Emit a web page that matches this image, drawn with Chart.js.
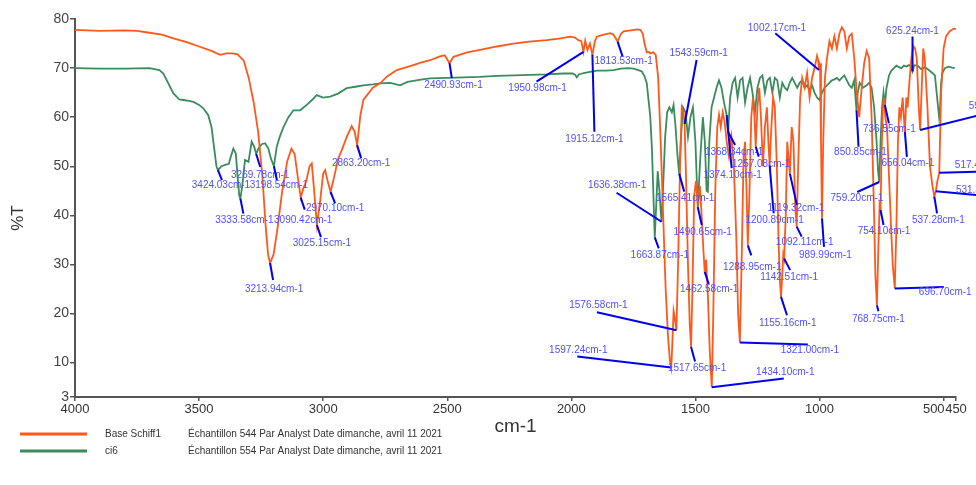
<!DOCTYPE html>
<html>
<head>
<meta charset="utf-8">
<script src="https://cdn.jsdelivr.net/npm/chart.js@4/dist/chart.umd.min.js"></script>
<style>
  html, body { margin: 0; padding: 0; background: #fff; }
  #spectre { display: block; }
</style>
</head>
<body>
<canvas id="spectre" width="976" height="485"></canvas>
<script>
// IR spectra, %T against wavenumber (cm-1)

var xTicks = [4000, 3500, 3000, 2500, 2000, 1500, 1000, 500, 450];
var yTicks = [3, 10, 20, 30, 40, 50, 60, 70, 80];

// Base Schiff1
var wnSchiff = [4000, 3900, 3800, 3750, 3700, 3650, 3600, 3550, 3500, 3450, 3415, 3390, 3365, 3345, 3320, 3300, 3280, 3262, 3245, 3232, 3222, 3213.94, 3200, 3185, 3165, 3145, 3128, 3115, 3100, 3090.42, 3080, 3068, 3055, 3046, 3038, 3025.15, 3012, 3000, 2992, 2982, 2970.10, 2955, 2940, 2925, 2905, 2885, 2873, 2863.20, 2850, 2838, 2800, 2771, 2740, 2703, 2670, 2637, 2600, 2569, 2530, 2510, 2490.93, 2475, 2420, 2368, 2300, 2234, 2170, 2099, 2050, 2005, 1985, 1972, 1960, 1950.98, 1944, 1935, 1925, 1915.12, 1905, 1897, 1870, 1843, 1830, 1813.53, 1800, 1789, 1760, 1735, 1722, 1712, 1705, 1696, 1688, 1682, 1670, 1660, 1650, 1640, 1630, 1620, 1610, 1603, 1597.24, 1593, 1588, 1583, 1576.58, 1570, 1562, 1555, 1548, 1543.59, 1538, 1530, 1523, 1517.65, 1512, 1505, 1498, 1490, 1482, 1475, 1468, 1462.58, 1457, 1450, 1442, 1434.10, 1428, 1420, 1412, 1405, 1398, 1390, 1382, 1374, 1365, 1355, 1345, 1335, 1328, 1321.00, 1314, 1306, 1300, 1294, 1288.95, 1282, 1275, 1268, 1262, 1257.08, 1250, 1243, 1236, 1228, 1220, 1212, 1206, 1200.89, 1194, 1187, 1180, 1172, 1165, 1160, 1155.16, 1150, 1146, 1142.51, 1136, 1130, 1125, 1119.32, 1112, 1105, 1098, 1092.11, 1086, 1078, 1070, 1060, 1050, 1040, 1030, 1020, 1010, 1005, 1002.17, 998, 994, 989.99, 985, 978, 970, 960, 950, 940, 930, 920, 910, 900, 890, 880, 870, 860, 850, 840, 830, 820, 810, 800, 790, 780, 775, 768.75, 762, 758, 754.10, 750, 745, 740, 735, 728, 720, 712, 705, 696.70, 690, 684, 678, 672, 665, 660, 656.04, 650, 645, 638, 630, 622, 615, 608, 600, 594.62, 588, 582, 576, 565, 555, 545, 537.28, 531.36, 525, 517.42, 510, 500, 490, 475, 460, 450];
var tSchiff = [77.8, 77.6, 77.7, 77.6, 77.2, 76.8, 76.0, 75.3, 74.4, 73.5, 72.7, 73.0, 73.0, 72.8, 71.5, 68, 63, 57, 48, 38, 32, 30.3, 32, 37, 45, 51, 53.6, 52.5, 47, 43.6, 45.5, 47, 50, 50.6, 46, 38.0, 43, 48.5, 49.2, 47, 44.8, 48, 51.5, 53.3, 56, 58.2, 57, 54.3, 60.4, 63.5, 66, 66.9, 68.4, 69.6, 70.1, 70.6, 71.2, 71.6, 72.4, 72.6, 71.0, 72.3, 73.2, 73.7, 74.4, 75.0, 75.4, 75.7, 76.0, 76.4, 76.2, 75.7, 75.5, 73.3, 75.6, 73.7, 75.0, 72.7, 75.5, 76.4, 76.8, 77.1, 76.8, 75.4, 77.0, 77.5, 77.7, 77.9, 77.8, 77, 75.0, 73.2, 73.3, 73, 73.2, 72.7, 68, 55, 40, 25, 15, 10.5, 9.0, 14, 20.5, 19, 16.6, 30, 50, 62.0, 61, 58.6, 48, 30, 18, 13.2, 25, 44, 47, 42, 46, 40, 33, 28.5, 31, 24, 12, 5.0, 20, 45, 58, 60.5, 58, 61, 59, 55, 52, 56, 50, 35, 20, 14.1, 30, 52, 55, 45, 33.9, 45, 60, 64, 60, 54.0, 62, 66, 60, 50, 58, 62, 55, 50.2, 58, 64, 62, 50, 35, 27, 23.4, 28, 32, 31.2, 40, 55, 52, 48.5, 58, 55, 42, 37.7, 50, 64, 68, 66, 69, 64, 68, 70, 72.5, 71.5, 69.6, 71, 55, 39.4, 55, 68, 72, 75.5, 74, 76.5, 74, 77, 78.3, 77.5, 74, 76.5, 77, 72, 65, 60, 66, 71, 73.5, 72, 60, 40, 28, 21.7, 35, 42, 41.1, 52, 62, 64, 60, 58, 48, 38, 30, 25.1, 38, 55, 62, 60, 64, 60, 57.0, 64, 62, 67, 72, 74.5, 74, 72, 62, 57.4, 66, 74, 72, 62, 50, 46, 43.8, 44.9, 47, 48.7, 65, 74, 76.5, 77.5, 78, 78];

// ci6
var wnCi6 = [4000, 3900, 3800, 3700, 3660, 3644, 3625, 3604, 3580, 3563, 3540, 3523, 3500, 3483, 3463, 3450, 3440, 3430, 3424.03, 3410, 3395, 3380, 3372, 3362, 3352, 3345, 3338, 3333.58, 3326, 3315, 3301, 3288, 3278, 3269.78, 3261, 3248, 3234, 3221, 3210, 3198.54, 3187, 3175, 3160, 3140, 3120, 3093, 3066, 3045, 3026, 3000, 2972, 2940, 2905, 2870, 2838, 2800, 2771, 2730, 2690, 2660, 2636, 2600, 2569, 2500, 2435, 2370, 2300, 2230, 2166, 2100, 2032, 1995, 1984, 1978, 1970, 1950, 1930, 1897, 1860, 1830, 1800, 1770, 1749, 1730, 1716, 1705, 1696, 1688, 1682, 1675, 1668, 1663.87, 1658, 1652, 1645, 1640, 1636.38, 1630, 1622, 1614, 1605, 1595, 1588, 1580, 1572, 1565.41, 1558, 1550, 1540, 1530, 1520, 1510, 1500, 1490.65, 1480, 1470, 1462, 1455, 1450, 1444, 1435, 1425, 1415, 1405, 1395, 1385, 1374.10, 1368.34, 1360, 1350, 1340, 1330, 1320, 1310, 1300, 1290, 1280, 1270, 1260, 1250, 1240, 1230, 1220, 1210, 1200, 1190, 1180, 1170, 1160, 1150, 1140, 1130, 1120, 1110, 1100, 1090, 1080, 1070, 1060, 1050, 1040, 1030, 1020, 1010, 1000, 990, 980, 970, 960, 950, 940, 930, 920, 910, 900, 890, 880, 870, 860, 855, 850.85, 846, 838, 825, 810, 800, 790, 780, 770, 764, 759.20, 754, 748, 742, 736.55, 730, 720, 710, 700, 690, 680, 670, 660, 650, 640, 632, 625.24, 618, 605, 590, 575, 560, 545, 535, 528, 522, 518, 514, 510, 505, 495, 480, 465, 455];
var tCi6 = [70.0, 69.9, 69.9, 70.0, 69.6, 68.9, 67, 64.9, 63.6, 63.5, 63.3, 63.1, 62.5, 61.8, 60.4, 58, 54, 50, 49.2, 50.0, 50.3, 50.5, 52, 53.6, 52.6, 48, 44, 43.4, 46, 51.3, 50.9, 55.0, 54, 52.5, 53.6, 54.5, 54.7, 53.6, 51.5, 50.0, 54, 56, 58, 60, 61.4, 61.4, 62.5, 63.5, 64.5, 64.0, 64.2, 64.8, 65.9, 66.2, 66.5, 66.7, 66.9, 67.0, 66.5, 67.2, 67.4, 67.7, 67.9, 68.0, 68.1, 68.2, 68.4, 68.5, 68.6, 68.7, 68.9, 68.9, 68.6, 68.1, 68.7, 69.0, 69.2, 69.5, 69.5, 69.6, 69.9, 70.0, 69.9, 69.6, 69.3, 68.3, 66.9, 63, 60.1, 53.3, 42, 35.5, 42, 49, 45, 41, 38.7, 46, 56, 61, 62, 61, 62.5, 58, 52, 48.5, 56, 62, 61, 56, 60, 62, 55, 41.7, 52, 60, 55, 45, 44.8, 55, 62, 64, 66, 67.5, 66, 63, 60.4, 57, 64, 67, 68, 64, 67.5, 68, 63, 66, 68, 65, 61, 66, 68, 68.5, 65, 67.5, 68, 65, 68, 67.5, 64, 67, 66, 65.5, 67, 68, 67, 66, 67, 67.5, 66, 66.5, 65.5, 66.5, 65, 64, 63.5, 65, 66, 66.5, 67, 67.5, 67.7, 68, 67.5, 68, 68.5, 67.5, 66.5, 66, 67.5, 64, 61.4, 65, 67, 66, 66.5, 67, 66, 62, 55, 49, 46.8, 55, 62, 65, 62.5, 66, 68.5, 69.5, 70, 70.5, 70.2, 70, 70.5, 70.3, 70.6, 70.4, 69.3, 70.6, 70.5, 69.8, 70.2, 69.6, 69, 68.5, 65, 62, 60, 62, 67, 69, 70, 70.3, 70.1, 70.0];

// labelled peaks: wavenumber and %T at the tip of each leader
var peakWn = [3424.03, 3333.58, 3269.78, 3198.54, 3213.94, 3090.42, 3025.15, 2970.10, 2863.20, 2490.93, 1950.98, 1915.12, 1813.53, 1663.87, 1636.38, 1597.24, 1576.58, 1565.41, 1543.59, 1517.65, 1490.65, 1462.58, 1434.10, 1374.10, 1368.34, 1321.00, 1288.95, 1257.08, 1200.89, 1155.16, 1142.51, 1119.32, 1092.11, 1002.17, 989.99, 850.85, 768.75, 759.20, 754.10, 736.55, 696.70, 656.04, 625.24, 594.62, 537.28, 531.36, 517.42];
var peakT = [49.2, 43.4, 52.5, 50.0, 30.3, 43.6, 38.0, 44.8, 54.3, 71.0, 73.3, 72.7, 75.4, 35.5, 38.7, 9.0, 16.6, 48.5, 58.6, 13.2, 41.7, 28.5, 5.0, 60.4, 57.0, 14.1, 33.9, 54.0, 50.2, 23.4, 31.2, 48.5, 37.7, 69.6, 39.4, 61.4, 21.7, 46.8, 41.1, 62.5, 25.1, 57.0, 69.3, 57.4, 43.8, 44.9, 48.7];

// leader end and text centre, in px from the tip
var peakOffsets = [
  [4, 10, 3, 15], [3, 15, 4, 22], [4, 13, 4, 21], [3, 14, 5, 19], [3, 17, 4, 26],
  [4, 12, 2.5, 22.5], [4, 12, 5, 18], [4.5, 11.6, 4.5, 16.6], [4, 13, 4, 18], [2.3, 15, 4, 22],
  [-47, 29.7, -46, 36], [2, 77, 2, 84], [5, 15, 6, 20], [4, 11, 5, 18], [-45, -29, -44.5, -36],
  [-94, -11, -93, -17], [-79.5, -18, -78, -24.5], [5, 18, 6, 25], [12, -64, 14, -71], [4, 14.5, 6, 21.5],
  [4, 18, 5, 25], [4, 12, 4.5, 17], [72, -8.6, 73.5, -15], [5, 53, 6, 60], [7, 13, 6, 20],
  [68, 2, 70, 8], [3.5, 10, 4.5, 21.7], [3, 10, 5.5, 17.5], [4, 48, 5, 55], [6, 18.4, 6.7, 26],
  [6, 11.6, 5, 18.3], [7, 31.5, 6, 35], [5, 10, 8, 16], [-43.7, -36.7, -42, -42.3], [2, 28.5, 3.3, 37],
  [2, 36.5, 4, 42], [1.5, 6, 1.5, 14], [-22, 10, -22.3, 16.5], [3, 15, 3.5, 21.7], [4, 18.5, 4.4, 24],
  [49, -1.6, 50.5, 4], [2, 25, 3, 31.5], [0, -35, 0, -40.5], [60, -15, 75, -24], [2.7, 16.7, 4, 23.4],
  [45, 4, 46.5, -1], [40, -1, 42, -7]
];

var legendNames = ['Base Schiff1', 'ci6'];
var legendInfo = ['Échantillon 544 Par Analyst Date dimanche, avril 11 2021',
                  'Échantillon 554 Par Analyst Date dimanche, avril 11 2021'];
var lineColors = ['rgb(255,88,28)', 'rgb(58,140,92)'];

function toPoints(wn, t) {
  var pts = [];
  for (var i = 0; i < wn.length; i++) pts.push({x: wn[i], y: t[i]});
  return pts;
}

Chart.defaults.font.family = "'Liberation Sans', Arial, sans-serif";

var peakLabels = {
  id: 'peakLabels',
  afterDatasetsDraw: function(chart) {
    var ctx = chart.ctx, xs = chart.scales.x, ys = chart.scales.y;
    ctx.save();
    ctx.font = "10px 'Liberation Sans', Arial, sans-serif";
    ctx.textAlign = 'center';
    ctx.textBaseline = 'middle';
    for (var i = 0; i < peakWn.length; i++) {
      var px = xs.getPixelForValue(peakWn[i]);
      var py = ys.getPixelForValue(peakT[i]);
      var o = peakOffsets[i];
      ctx.strokeStyle = '#0000f0';
      ctx.lineWidth = 2;
      ctx.beginPath();
      ctx.moveTo(px, py);
      ctx.lineTo(px + o[0], py + o[1]);
      ctx.stroke();
      ctx.fillStyle = 'rgb(80,80,255)';
      ctx.fillText(peakWn[i].toFixed(2) + 'cm-1', px + o[2], py + o[3]);
    }
    ctx.restore();
  }
};

var axisText = {
  id: 'axisText',
  afterDraw: function(chart) {
    var ctx = chart.ctx, xs = chart.scales.x, area = chart.chartArea;
    ctx.save();
    ctx.fillStyle = '#333';
    ctx.font = "13px 'Liberation Sans', Arial, sans-serif";
    ctx.textBaseline = 'middle';
    xTicks.forEach(function(v) {
      var px = xs.getPixelForValue(v);
      if (v === 500) { ctx.textAlign = 'right'; px += 1; }
      else ctx.textAlign = 'center';
      ctx.fillText(String(v), px, area.bottom + 12);
    });
    // y title
    ctx.font = "17px 'Liberation Sans', Arial, sans-serif";
    ctx.textAlign = 'center';
    ctx.translate(18, 218);
    ctx.rotate(-Math.PI / 2);
    ctx.fillText('%T', 0, 0);
    ctx.restore();

    // legend below the axis
    ctx.save();
    ctx.font = "10px 'Liberation Sans', Arial, sans-serif";
    ctx.textBaseline = 'middle';
    ctx.textAlign = 'left';
    for (var i = 0; i < legendNames.length; i++) {
      var ly = 434 + i * 17;
      ctx.strokeStyle = lineColors[i];
      ctx.lineWidth = 3;
      ctx.beginPath();
      ctx.moveTo(20, ly);
      ctx.lineTo(87, ly);
      ctx.stroke();
      ctx.fillStyle = '#333';
      ctx.fillText(legendNames[i], 105, ly);
      ctx.fillText(legendInfo[i], 188, ly);
    }
    ctx.restore();
  }
};

var chart = new Chart(document.getElementById('spectre'), {
  type: 'line',
  data: {
    datasets: [
      {label: legendNames[0], data: toPoints(wnSchiff, tSchiff), borderColor: lineColors[0], borderWidth: 1.8, pointRadius: 0, tension: 0},
      {label: legendNames[1], data: toPoints(wnCi6, tCi6), borderColor: lineColors[1], borderWidth: 1.8, pointRadius: 0, tension: 0}
    ]
  },
  options: {
    responsive: false,
    animation: false,
    layout: {padding: {left: 0, right: 20, top: 19, bottom: 45}},
    plugins: {legend: {display: false}, tooltip: {enabled: false}},
    scales: {
      x: {
        type: 'linear', reverse: true, min: 450, max: 4000,
        afterBuildTicks: function(s) { s.ticks = xTicks.map(function(v) { return {value: v}; }); },
        afterFit: function(s) { s.height = 43; },
        ticks: {display: false},
        grid: {drawOnChartArea: false, tickLength: 4, color: '#555', lineWidth: 1.5},
        border: {color: '#555', width: 2},
        title: {display: true, text: 'cm-1', font: {size: 19}, color: '#333', padding: {top: 0, bottom: 2}}
      },
      y: {
        min: 3, max: 80,
        afterBuildTicks: function(s) { s.ticks = yTicks.map(function(v) { return {value: v}; }); },
        afterFit: function(s) { s.width = 75; },
        ticks: {font: {size: 14}, color: '#444', padding: 1},
        grid: {drawOnChartArea: false, tickLength: 5, color: '#555', lineWidth: 1.5},
        border: {color: '#555', width: 2}
      }
    }
  },
  plugins: [peakLabels, axisText]
});
</script>
</body>
</html>
